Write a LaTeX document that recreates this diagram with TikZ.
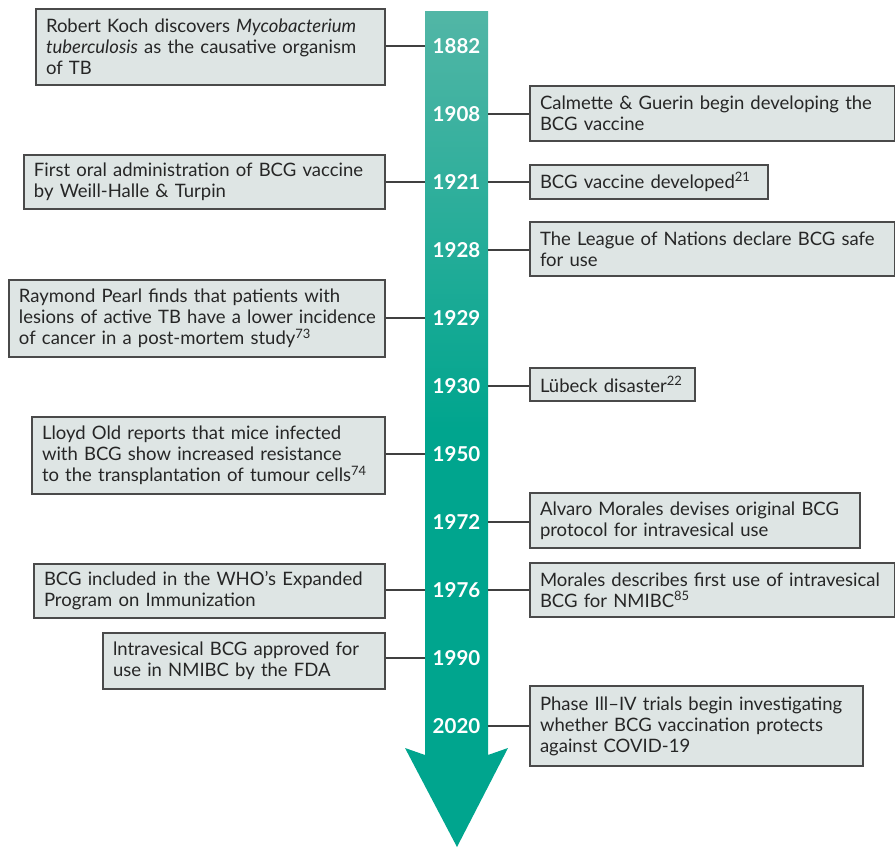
\documentclass[tikz,border=0pt]{standalone}
\usepackage{fontspec}
\setmainfont{Lato}
\definecolor{tealtop}{HTML}{52B6A6}
\definecolor{tealbot}{HTML}{00A58E}
\definecolor{boxfill}{HTML}{DEE5E4}
\definecolor{boxline}{HTML}{4A4A4A}
\tikzset{
  evbox/.style={draw=boxline, line width=1.4pt, fill=boxfill, inner xsep=10pt, inner ysep=0pt,
    align=left, font=\fontsize{18.5}{21}\selectfont, text=black!85},
  yearlab/.style={text=white, font=\fontsize{20.5}{22}\bfseries\selectfont, inner sep=0pt, minimum width=63pt},
  conn/.style={draw=black!75, line width=1.2pt}
}
\newcommand{\evb}[6]{%
  \pgfmathsetmacro{\bw}{#4-#2}\pgfmathsetmacro{\bh}{#5-#3}%
  \pgfmathsetmacro{\tw}{#4-#2-20}%
  \node[evbox, minimum width=\bw pt, minimum height=\bh pt, text width=\tw pt] (#1) at ({(#2+#4)/2},{(#3+#5)/2}) {#6};}
\newcommand{\tl}[1]{\mbox{#1}}
\begin{document}
\begin{tikzpicture}[x=1pt,y=-1pt]
\useasboundingbox (0,0) rectangle (895,849);
% arrow
\path[top color=tealtop, bottom color=tealbot, middle color=tealbot, shading angle=0]
  (425,11) -- (488,11) -- (488,755) -- (508,748) -- (457,847) -- (405,748) -- (425,755) -- cycle;
% years
\foreach \yr/\yy in {1882/46,1908/114,1921/182,1928/250,1929/318,1930/386,1950/454,1972/522,1976/590,1990/658,2020/726}{
  \node[yearlab] (y\yr) at (456.5,\yy) {\yr};
}
% left boxes
\evb{koch}{36}{9}{385}{85}{\tl{Robert Koch discovers \textit{Mycobacterium}}\\ \tl{\textit{tuberculosis} as the causative organism}\\ \tl{of TB}}
\evb{oral}{24}{155}{385}{209}{\tl{First oral administration of BCG vaccine}\\ \tl{by Weill-Halle \& Turpin}}
\evb{pearl}{9}{280}{385}{357}{\tl{Raymond Pearl finds that patients with}\\ \tl{lesions of active TB have a lower incidence}\\ \tl{of cancer in a post-mortem study\textsuperscript{73}}}
\evb{old}{32}{417}{385}{494}{\tl{Lloyd Old reports that mice infected}\\ \tl{with BCG show increased resistance}\\ \tl{to the transplantation of tumour cells\textsuperscript{74}}}
\evb{who}{34}{564}{385}{618}{\tl{BCG included in the WHO's Expanded}\\ \tl{Program on Immunization}}
\evb{fda}{103}{633}{385}{689}{\tl{lntravesical BCG approved for}\\ \tl{use in NMIBC by the FDA}}
% right boxes
\evb{calm}{530}{86}{895}{141}{\tl{Calmette \& Guerin begin developing the}\\ \tl{BCG vaccine}}
\evb{dev}{530}{165}{768}{199}{\tl{BCG vaccine developed\textsuperscript{21}}}
\evb{league}{530}{222}{895}{276}{\tl{The League of Nations declare BCG safe}\\ \tl{for use}}
\evb{lubeck}{530}{368}{695}{401}{\tl{Lübeck disaster\textsuperscript{22}}}
\evb{alvaro}{530}{493}{860}{548}{\tl{Alvaro Morales devises original BCG}\\ \tl{protocol for intravesical use}}
\evb{morales}{530}{563}{895}{617}{\tl{Morales describes first use of intravesical}\\ \tl{BCG for NMIBC\textsuperscript{85}}}
\evb{covid}{530}{686}{863}{766}{\tl{Phase Ill–IV trials begin investigating}\\ \tl{whether BCG vaccination protects}\\ \tl{against COVID-19}}
% connectors
\draw[conn] (koch.east |- y1882) -- (y1882.west);
\draw[conn] (oral.east |- y1921) -- (y1921.west);
\draw[conn] (pearl.east |- y1929) -- (y1929.west);
\draw[conn] (old.east |- y1950) -- (y1950.west);
\draw[conn] (who.east |- y1976) -- (y1976.west);
\draw[conn] (fda.east |- y1990) -- (y1990.west);
\draw[conn] (y1908.east) -- (calm.west |- y1908);
\draw[conn] (y1921.east) -- (dev.west |- y1921);
\draw[conn] (y1928.east) -- (league.west |- y1928);
\draw[conn] (y1930.east) -- (lubeck.west |- y1930);
\draw[conn] (y1972.east) -- (alvaro.west |- y1972);
\draw[conn] (y1976.east) -- (morales.west |- y1976);
\draw[conn] (y2020.east) -- (covid.west |- y2020);
\end{tikzpicture}
\end{document}
